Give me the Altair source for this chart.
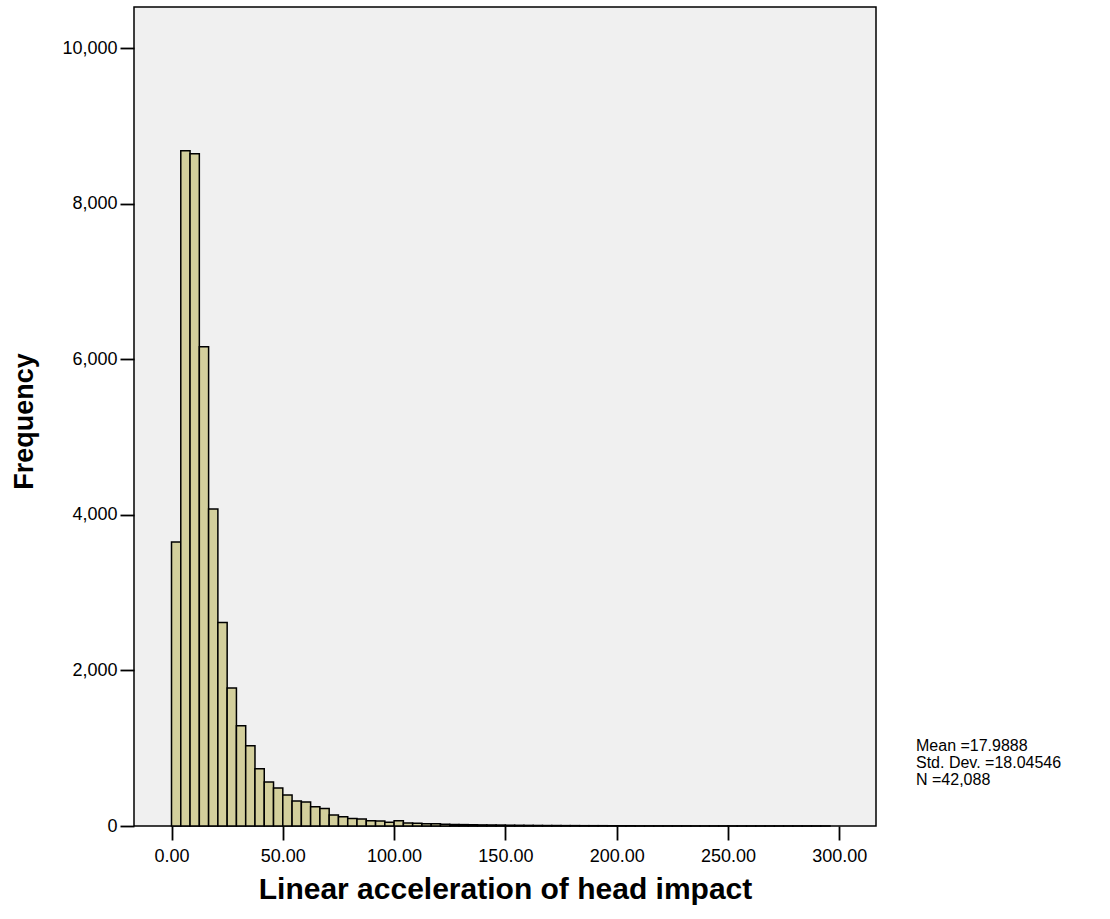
import altair as alt
import pandas as pd

# Histogram of linear acceleration of head impact (bin width 50/12)
bin_width = 50.0 / 12.0
counts = [
    3650, 8680, 8640, 6160, 4075, 2615, 1775, 1290, 1030, 735,
    565, 490, 400, 320, 310, 248, 226, 141, 120, 98,
    90, 69, 64, 47, 69, 40, 35, 30, 28, 24,
    20, 18, 16, 14, 13, 12, 10, 9, 8, 7,
    6, 6, 5, 5, 4, 4, 4, 3, 3, 3,
    2, 2, 2, 2, 2, 2, 1, 1, 1, 1,
    1, 1, 1, 1, 1, 1, 1, 1, 1, 1,
    1,
]
x_ticks = [0, 50, 100, 150, 200, 250, 300]
y_ticks = [0, 2000, 4000, 6000, 8000, 10000]
stats_lines = ["Mean =17.9888", "Std. Dev. =18.04546", "N =42,088"]

df = pd.DataFrame({
    "start": [i * bin_width for i in range(len(counts))],
    "end": [(i + 1) * bin_width for i in range(len(counts))],
    "count": counts,
})

FONT = "Liberation Sans"

bars = alt.Chart(df).mark_rect(
    fill="#D3CF9C", stroke="black", strokeWidth=1.5
).encode(
    x=alt.X("start:Q",
            scale=alt.Scale(domain=[-16.85, 316.5], nice=False, zero=False),
            axis=alt.Axis(values=x_ticks, format=".2f", title="Linear acceleration of head impact",
                          grid=False, domain=False, tickSize=14, tickWidth=1.8, tickColor="black",
                          labelPadding=7, labelFontSize=18, labelColor="black", labelFont=FONT,
                          titleFontSize=30, titleFont=FONT, titleFontWeight="bold", titleColor="black",
                          titleX=371, titleY=63, titleBaseline="middle", titleAlign="center")),
    x2="end:Q",
    y=alt.Y("count:Q",
            scale=alt.Scale(domain=[0, 10527], nice=False),
            axis=alt.Axis(values=y_ticks, format=",.0f", title="Frequency",
                          grid=False, domain=False, tickSize=14, tickWidth=1.8, tickColor="black",
                          labelPadding=3, labelFontSize=18, labelColor="black", labelFont=FONT,
                          titleFontSize=27, titleFont=FONT, titleFontWeight="bold", titleColor="black",
                          titleX=-110, titleY=414, titleAngle=-90, titleBaseline="middle",
                          titleAlign="center")),
    y2=alt.datum(0),
)

stats = alt.Chart(pd.DataFrame({"k": [0]})).mark_text(
    text=stats_lines, align="left", baseline="top", fontSize=16, lineHeight=17,
    font=FONT, color="black"
).encode(x=alt.value(782), y=alt.value(731))

chart = alt.layer(bars, stats).properties(
    width=742, height=819,
    autosize=alt.AutoSizeParams(type="none"),
    padding={"left": 134, "top": 7, "right": 234, "bottom": 93},
    background="white",
).configure_view(
    fill="#F0F0F0", stroke="black", strokeWidth=1.5
)

chart.save("out.html", embed_options={"renderer": "svg", "actions": False})
